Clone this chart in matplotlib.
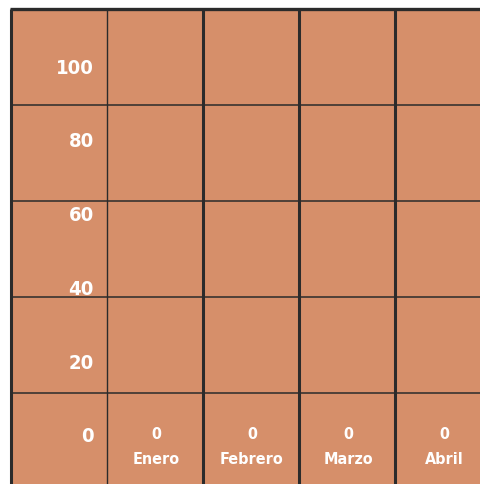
import matplotlib
matplotlib.use("Agg")
import matplotlib.pyplot as plt
from matplotlib.patches import Rectangle

plt.rcParams["font.family"] = ["DejaVu Sans"]

# data
months = ["Enero", "Febrero", "Marzo", "Abril"]
values = [0, 0, 0, 0]
y_ticks = [0, 20, 40, 60, 80, 100]

FILL = "#D68F6A"
LINE = "#2b2b2b"

W, H = 481, 484
fig = plt.figure(figsize=(W / 100, H / 100), dpi=100)

# grid layer, pixel coordinates
ax = fig.add_axes([0, 0, 1, 1])
ax.set_xlim(0, W)
ax.set_ylim(H, 0)
ax.axis("off")

left, top, cell = 11, 9, 96
ax.add_patch(Rectangle((left, top), W - left + 20, H - top + 20,
                       facecolor=FILL, edgecolor="none"))

for i in range(5):
    x = left + i * cell
    lw = 2.2 if i != 1 else 1.0
    ax.plot([x, x], [top, H + 5], color=LINE, lw=lw, solid_capstyle="butt")
for j in range(5):
    y = top + j * cell
    lw = 2.4 if j == 0 else 1.1
    ax.plot([left - 1, W + 5], [y, y], color=LINE, lw=lw, solid_capstyle="butt")

# value layer: 0..100 scale
ax_v = fig.add_axes([0, (H - 437) / H, 1, (437 - 68) / H])
ax_v.set_xlim(0, W)
ax_v.set_ylim(0, 100)
ax_v.patch.set_alpha(0)
ax_v.axis("off")

txt = dict(color="white", fontweight="bold", fontstretch="condensed")

for v in y_ticks:
    ax_v.text(94, v, str(v), ha="right", va="center", fontsize=14.5, **txt)

for i, (m, val) in enumerate(zip(months, values)):
    cx = left + cell * (i + 1) + cell / 2 + 1
    ax_v.annotate(str(val), (cx, val), xytext=(0, 2), textcoords="offset points",
                  ha="center", va="center", fontsize=11.5, **txt)
    ax_v.annotate(m, (cx, val), xytext=(0, -16), textcoords="offset points",
                  ha="center", va="center", fontsize=11.5, **txt)

fig.savefig("out.png", dpi=100)
